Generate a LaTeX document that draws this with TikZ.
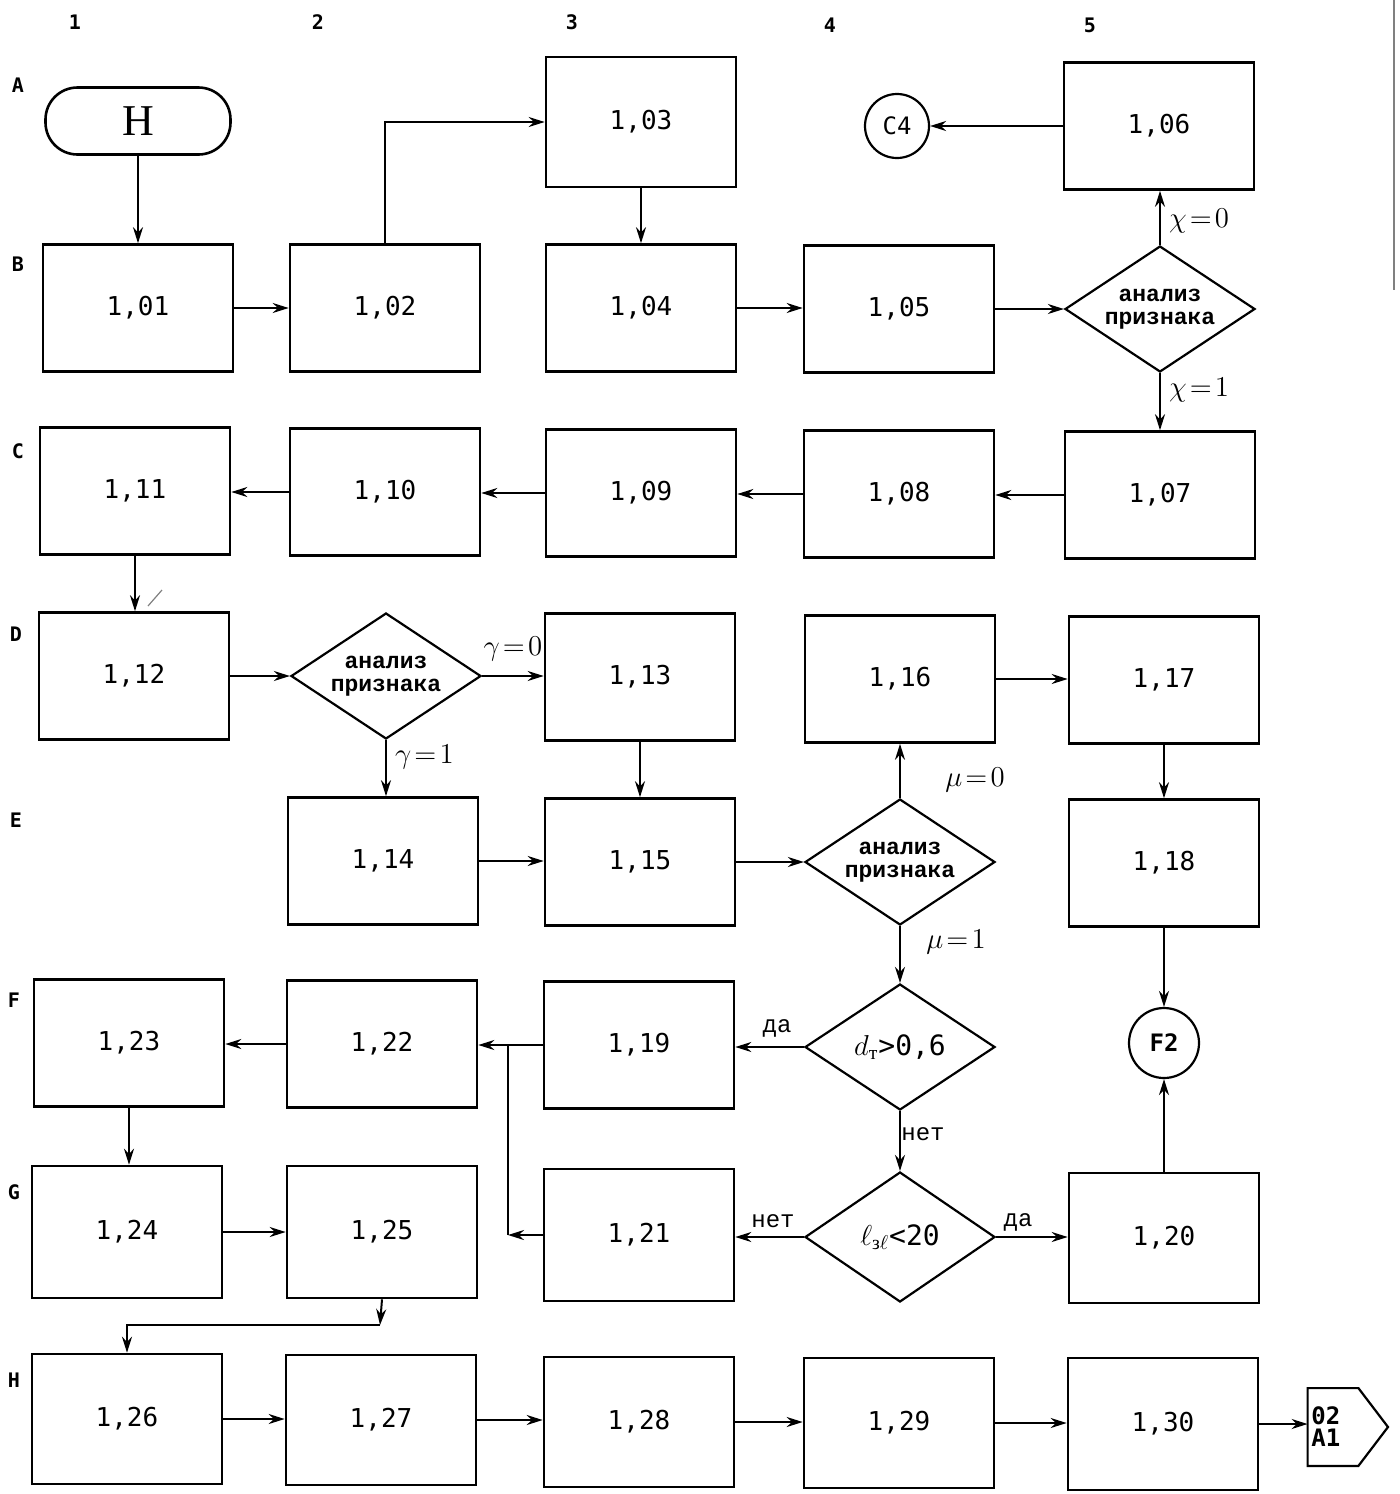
\documentclass[tikz,border=0pt]{standalone}
\usepackage{fontspec}
\usepackage{amsmath}
\setmainfont{Liberation Serif}
\setmonofont{DejaVu Sans Mono}
\newfontfamily\slabfont{Liberation Mono}
\usetikzlibrary{shapes.geometric,arrows.meta}
\begin{document}
\begin{tikzpicture}[x=0.5pt,y=-0.5pt,
  box/.style={draw, line width=1.3pt, minimum width=95pt, minimum height=63.5pt, inner sep=0pt, font=\ttfamily\fontsize{13}{13}\selectfont},
  dia/.style={draw, diamond, line width=1.1pt, minimum width=95pt, minimum height=63pt, inner sep=0pt},
  dtext/.style={font=\slabfont\bfseries\fontsize{11.5}{11.5}\selectfont, align=center, inner sep=0pt},
  arr/.style={line width=1pt, -{Stealth[length=8pt,width=5pt]}},
  ln/.style={line width=1pt},
  lab/.style={font=\slabfont\fontsize{12}{12}\selectfont, inner sep=1pt},
  grk/.style={font=\Large, inner sep=1pt},
  hdr/.style={font=\ttfamily\bfseries\fontsize{10}{10}\selectfont},
  conn/.style={draw, circle, line width=1.1pt, inner sep=0pt, font=\ttfamily\fontsize{12}{12}\selectfont}]
\fill[white] (0,0) rectangle (1399,1494);
\useasboundingbox (0,0) rectangle (1399,1494);

% headers
\node[hdr] (c1) at (75,22) {1};
\node[hdr] (c2) at (318,22) {2};
\node[hdr] (c3) at (572,22) {3};
\node[hdr] (c4) at (830,25) {4};
\node[hdr] (c5) at (1090,25) {5};
\node[hdr] (rA) at (18,85) {A};
\node[hdr] (rB) at (18,264) {B};
\node[hdr] (rC) at (18,451) {C};
\node[hdr] (rD) at (16,634) {D};
\node[hdr] (rE) at (16,820) {E};
\node[hdr] (rF) at (14,1000) {F};
\node[hdr] (rG) at (14,1192) {G};
\node[hdr] (rH) at (14,1380) {H};

% row A
\node[draw, line width=1.3pt, rounded corners=16pt, minimum width=92.5pt, minimum height=33.5pt, inner sep=0pt, font=\fontsize{22}{22}\selectfont] (start) at (138,121) {Н};
\node[box, minimum height=65pt] (n103) at (641,122) {1,03};
\node[conn, minimum size=32pt] (C4) at (897,126) {C4};
\node[box] (n106) at (1159,126) {1,06};

% row B
\node[box] (n101) at (138,308) {1,01};
\node[box] (n102) at (385,308) {1,02};
\node[box] (n104) at (641,308) {1,04};
\node[box] (n105) at (899,309) {1,05};
\node[dia] (d1) at (1160,309) {};
\node[dtext] (d1t) at (d1) {анализ\\признака};

% row C
\node[box] (n111) at (135,491) {1,11};
\node[box] (n110) at (385,492) {1,10};
\node[box] (n109) at (641,493) {1,09};
\node[box] (n108) at (899,494) {1,08};
\node[box] (n107) at (1160,495) {1,07};

% row D
\node[box] (n112) at (134,676) {1,12};
\node[dia] (d2) at (386,676) {};
\node[dtext] (d2t) at (d2) {анализ\\признака};
\node[box] (n113) at (640,677) {1,13};
\node[box] (n116) at (900,679) {1,16};
\node[box] (n117) at (1164,680) {1,17};

% row E
\node[box] (n114) at (383,861) {1,14};
\node[box] (n115) at (640,862) {1,15};
\node[dia] (d3) at (900,862) {};
\node[dtext] (d3t) at (d3) {анализ\\признака};
\node[box] (n118) at (1164,863) {1,18};

% row F
\node[box] (n123) at (129,1043) {1,23};
\node[box] (n122) at (382,1044) {1,22};
\node[box] (n119) at (639,1045) {1,19};
\node[dia] (d4) at (900,1047) {};
\node[inner sep=0pt, font=\fontsize{14}{14}\selectfont] (d4t) at (d4) {$d_{\text{т}}$\texttt{>0,6}};
\node[conn, minimum size=35pt, font=\ttfamily\bfseries\fontsize{12}{12}\selectfont] (F2) at (1164,1043) {F2};

% row G
\node[box, minimum height=66pt] (n124) at (127,1232) {1,24};
\node[box, minimum height=66pt] (n125) at (382,1232) {1,25};
\node[box, minimum height=66pt] (n121) at (639,1235) {1,21};
\node[dia, minimum height=65pt] (d5) at (900,1237) {};
\node[inner sep=0pt, font=\fontsize{14}{14}\selectfont] (d5t) at (d5) {$\ell_{\text{з}\ell}$\texttt{<20}};
\node[box, minimum height=65pt] (n120) at (1164,1238) {1,20};

% row H
\node[box, minimum height=65pt] (n126) at (127,1419) {1,26};
\node[box, minimum height=65pt] (n127) at (381,1420) {1,27};
\node[box, minimum height=65pt] (n128) at (639,1422) {1,28};
\node[box, minimum height=65pt] (n129) at (899,1423) {1,29};
\node[box, minimum height=66pt] (n130) at (1163,1424) {1,30};
\node[inner sep=0pt, minimum width=25pt, minimum height=38.5pt] (out) at (1333,1427) {};
\coordinate (outtip) at (1388,1427);
\draw[line width=1.1pt] (out.north west) -- (out.north east) -- (outtip) -- (out.south east) -- (out.south west) -- cycle;
\node[font=\ttfamily\bfseries\fontsize{12}{11}\selectfont, align=left, anchor=west, inner sep=0pt] (outt) at (1311,1427) {02\\A1};

% connectors, row A/B
\draw[arr] (start.south) -- (start.south |- n101.north);
\draw[arr] (n101.east) -- (n101.east -| n102.west);
\draw[arr] (n102.north) |- (n103.west);
\draw[arr] (n103.south) -- (n103.south |- n104.north);
\draw[arr] (n104.east) -- (n104.east -| n105.west);
\draw[arr] (n105.east) -- (n105.east -| d1.west);
\draw[arr] (d1.north) -- (d1.north |- n106.south) node[grk, pos=0.45, anchor=west, xshift=3pt] (l1) {$\chi\!=\!0$};
\draw[arr] (n106.west) -- (C4.east);
\draw[arr] (d1.south) -- (d1.south |- n107.north) node[grk, pos=0.3, anchor=west, xshift=3pt] (l2) {$\chi\!=\!1$};

% row C
\draw[arr] (n107.west) -- (n107.west -| n108.east);
\draw[arr] (n108.west) -- (n108.west -| n109.east);
\draw[arr] (n109.west) -- (n109.west -| n110.east);
\draw[arr] (n110.west) -- (n110.west -| n111.east);
\draw[arr] (n111.south) -- (n111.south |- n112.north);

% row D/E
\draw[arr] (n112.east) -- (n112.east -| d2.west);
\draw[arr] (d2.east) -- (d2.east -| n113.west) node[grk, midway, above=6pt] (l3) {$\gamma\!=\!0$};
\draw[arr] (d2.south) -- (d2.south |- n114.north) node[grk, pos=0.3, anchor=west, xshift=3pt] (l4) {$\gamma\!=\!1$};
\draw[arr] (n113.south) -- (n113.south |- n115.north);
\draw[arr] (n114.east) -- (n114.east -| n115.west);
\draw[arr] (n115.east) -- (n115.east -| d3.west);
\draw[arr] (d3.north) -- (d3.north |- n116.south);
\node[grk] (l5) at (975,780) {$\mu\!=\!0$};
\draw[arr] (n116.east) -- (n116.east -| n117.west);
\draw[arr] (n117.south) -- (n117.south |- n118.north);
\draw[arr] (n118.south) -- (F2.north);
\draw[arr] (d3.south) -- (d4.north);
\node[grk] (l6) at (956,942) {$\mu\!=\!1$};

% row F/G
\draw[arr] (d4.west) -- (d4.west -| n119.east);
\node[lab] (l7) at (777,1028) {да};
\draw[arr] (d4.south) -- (d5.north);
\node[lab] (l8) at (923,1134) {нет};
\draw[arr] (d5.west) -- (d5.west -| n121.east);
\node[lab] (l9) at (773,1221) {нет};
\draw[arr] (d5.east) -- (d5.east -| n120.west);
\node[lab] (l10) at (1018,1222) {да};
\draw[arr] (n120.north) -- (F2.south);
\draw[arr] (n119.west) -- (n119.west -| n122.east);
\coordinate (j1) at (508,1233);
\coordinate (j2) at (508,1045);
\draw[arr] (n121.west) -- (n121.west -| j1);
\draw[ln] (n121.west -| j1) -- (j2);
\draw[arr] (n122.west) -- (n122.west -| n123.east);
\draw[arr] (n123.south) -- (n123.south |- n124.north);
\draw[arr] (n124.east) -- (n124.east -| n125.west);
\coordinate (j3) at (380,1325);
\draw[arr] (n125.south) -- (j3);
\draw[arr] (j3) -| (n126.north);

% row H
\draw[arr] (n126.east) -- (n126.east -| n127.west);
\draw[arr] (n127.east) -- (n127.east -| n128.west);
\draw[arr] (n128.east) -- (n128.east -| n129.west);
\draw[arr] (n129.east) -- (n129.east -| n130.west);
\draw[arr] (n130.east) -- (n130.east -| out.west);

% page edge and pen mark
\draw[line width=1pt, gray] (1394,0) -- (1394,290);
\draw[line width=0.6pt, gray] (148,606) -- (162,590);
\end{tikzpicture}
\end{document}
